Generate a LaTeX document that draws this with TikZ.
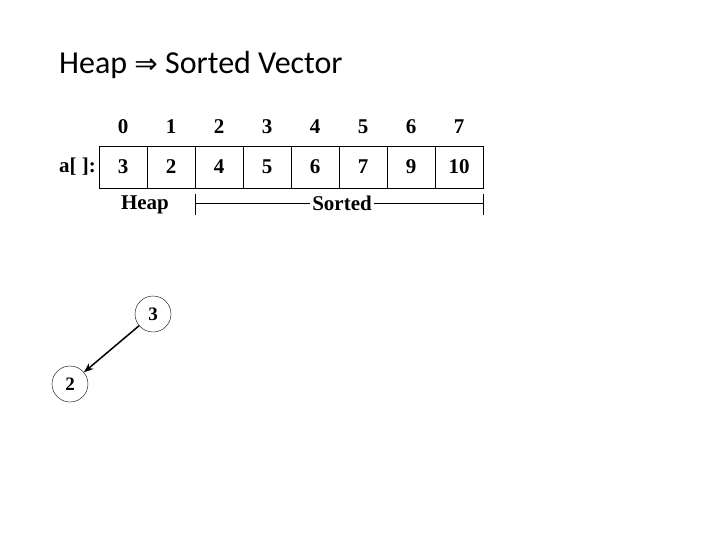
\documentclass[tikz,border=0pt]{standalone}
\usepackage{fontspec}
\setmainfont{Liberation Serif}
\newfontfamily\titlefont{Carlito}
\newfontfamily\arrowfont{DejaVu Sans}
\usepackage{tikz}
\usetikzlibrary{positioning,arrows.meta}

\begin{document}
\begin{tikzpicture}[
    x=1pt, y=-1pt,
    node distance=0pt,
    cell/.style={rectangle, draw=black, thin, minimum width=48pt, minimum height=42pt, outer sep=0pt, inner sep=0pt, text centered, font=\fontsize{21}{23}\selectfont\bfseries},
    index/.style={inner sep=0pt, font=\fontsize{21}{23}\selectfont\bfseries},
    treenode/.style={circle, draw=black, thin, minimum size=36pt, inner sep=0pt, font=\fontsize{19}{21}\selectfont\bfseries},
    arrow/.style={-{Stealth[length=3.4mm, width=2.6mm]}, line width=1.5pt},
]
\useasboundingbox (0,0) rectangle (720,540);

% Title
\node (title) [anchor=west, inner sep=0pt, font=\titlefont\fontsize{32}{35}\selectfont] at (59,65) {Heap {\arrowfont\fontsize{28}{30}\selectfont ⇒} Sorted Vector};

% Array cells
\node (c0) [cell] at (123,167) {3};
\node (c1) [cell, right=of c0] {2};
\node (c2) [cell, right=of c1] {4};
\node (c3) [cell, right=of c2] {5};
\node (c4) [cell, right=of c3] {6};
\node (c5) [cell, right=of c4] {7};
\node (c6) [cell, right=of c5] {9};
\node (c7) [cell, right=of c6] {10};

% Indices
\node (i0) [index, above=12pt of c0] {0};
\node (i1) [index, above=12pt of c1] {1};
\node (i2) [index, above=12pt of c2] {2};
\node (i3) [index, above=12pt of c3] {3};
\node (i4) [index, above=12pt of c4] {4};
\node (i5) [index, above=12pt of c5] {5};
\node (i6) [index, above=12pt of c6] {6};
\node (i7) [index, above=12pt of c7] {7};

\node (name) [index, left=3pt of c0] {a[ ]:};

% Heap / Sorted parts
\node (heap) [index, below=8pt of c0.south east, xshift=-2pt] {Heap};
\node (sorted) [index, inner xsep=2pt, below=8pt of c4.south east, xshift=3pt] {Sorted};

\coordinate (sl) at (c2.south west |- sorted);
\coordinate (sr) at (c7.south east |- sorted);
\draw[thin] (sl) -- (sorted.west);
\draw[thin] (sorted.east) -- (sr);
\draw[thin] ([yshift=10pt]sl) -- ([yshift=-11pt]sl);
\draw[thin] ([yshift=10pt]sr) -- ([yshift=-11pt]sr);

% Heap tree
\node (n3) [treenode] at (153,314) {3};
\node (n2) [treenode] at (70,384) {2};

\draw[arrow] (n3) -- (n2);

\end{tikzpicture}
\end{document}
